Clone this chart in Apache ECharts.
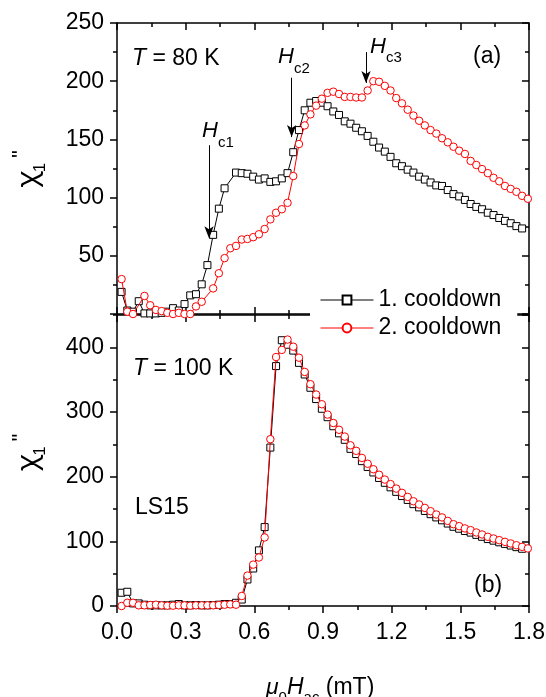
<!DOCTYPE html>
<html>
<head>
<meta charset="utf-8">
<script src="https://cdn.jsdelivr.net/npm/echarts@6/dist/echarts.min.js"></script>
<style>
  html, body { margin: 0; padding: 0; background: #fff; }
  #chart { width: 546px; height: 697px; }
</style>
</head>
<body>
<div id="chart"></div>
<script>
// ---- data ----
const fieldGrid = [0.02,0.045,0.07,0.095,0.12,0.145,0.17,0.195,0.22,0.245,
  0.27,0.295,0.32,0.345,0.37,0.395,0.42,0.445,0.47,0.495,
  0.52,0.545,0.57,0.595,0.62,0.645,0.67,0.695,0.72,0.745,
  0.77,0.795,0.82,0.845,0.87,0.895,0.92,0.945,0.97,0.995,
  1.02,1.045,1.07,1.095,1.12,1.145,1.17,1.195,1.22,1.245,
  1.27,1.295,1.32,1.345,1.37,1.395,1.42,1.445,1.47,1.495,
  1.52,1.545,1.57,1.595,1.62,1.645,1.67,1.695,1.72,1.745,
  1.77,1.795];

// T = 80 K, panel (a)
const top80Cool1 = [19,3,2,11,0.5,0.5,0.5,1,2,5,
  3,8.5,16,17,25.5,42,68,90.5,108,null,
  121.5,121,120.5,118,115.5,116.5,113.5,114,116.5,121,
  139,158,175,181.5,183,181.5,178.5,174,171,165.5,
  163.5,160,157,153,148,143,139.5,135,129.5,127,
  124,121.5,118,115.5,113,110.5,110,106.5,103,101,
  98,94.5,92,90,87,85,82.5,80,78,75.5,
  73.5,null];
const top80Cool2 = [30,2,0,null,15.5,7.5,3.5,2.5,1,0,
  1,0,0,6.5,10.5,null,22,35,48,56.5,
  58.5,64,64.5,66,68.5,73,81.3,87,90,95.5,
  118.5,146,162,171.5,179,185,190,191,189,186.5,
  186.5,186,186,192,200,199.5,196,192,185.5,181,
  175.5,170.5,166,162,158,155,151,147.5,143.7,140.3,
  137.5,131.5,128,124.5,121,117,114,110,107.5,105,
  101.5,99];

// T = 100 K, panel (b)
const bot100Cool1 = [20.5,22,4,4,2,1,1,1,1,2,
  3,1,1,1.5,1,1,1.5,2,3,3,
  5,10,41,58,86,122,245,371,411,404,
  395,376,358,337.5,320,305,292,278,267,257,
  243,235,224,215,206.5,198,190.5,183.5,176.5,170,
  164,157.5,152.5,147,142,137,132.5,127.5,122.5,119.5,
  116,113.5,110,107,103.5,101,98.5,96,93.5,91,
  88.5,null];
const bot100Cool2 = [0,5,5,1,1,1.5,2,1,0.5,0.5,
  1,1,0.5,1,1,1,1,1.5,2,2.5,
  2,15.5,47,64,75,106,258,385,396,412,
  401,384,362,343,327,312,296,283,272.5,262,
  248.5,240,229,220,211.5,203,195.5,188.5,181.6,175,
  168.7,162,157,151.7,146.6,141.5,137,131.6,126.5,123.5,
  120,117.3,113.7,110.6,107,104.4,101.8,99.2,96.7,94,
  91.5,89];

const seriesNames = ['1. cooldown', '2. cooldown'];
const xTicks = [0, 1.8, 0.3];          // min, max, interval (mT)
const yTopTicks = [0, 250, 50];
const yBotTicks = [0, 450, 100];
// critical-field arrows in panel (a): [x, yStart, yEnd]
const arrowHc1 = [0.402, 145, 65];
const arrowHc2 = [0.763, 203, 152];
const arrowHc3 = [1.088, 225, 198.5];

// ---- helpers ----
const FONT = 'Liberation Sans';
const mctx = document.createElement('canvas').getContext('2d');
function fontStr(size, italic, fam) { return (italic ? 'italic ' : '') + size + 'px "' + (fam || FONT) + '"'; }
function midOffset(size) {
  mctx.font = fontStr(size, false); mctx.textBaseline = 'middle';
  return mctx.measureText('H').actualBoundingBoxDescent;
}
function widthOf(t, size, italic) {
  mctx.font = fontStr(size, italic); mctx.textBaseline = 'alphabetic';
  return mctx.measureText(t).width;
}
function compose(x, base, pieces) {
  const els = []; let cx = x;
  pieces.forEach(function (p) {
    const t = p[0], size = p[1], it = p[2], dy = p[3] || 0;
    els.push({
      type: 'text', x: cx, y: base + dy - midOffset(size), silent: true, z: 50,
      style: { text: t, font: fontStr(size, it), fill: '#000', align: 'left', verticalAlign: 'middle' }
    });
    cx += widthOf(t, size, it);
  });
  return els;
}
function rotText(x, y, t, size, fam) {
  return { type: 'text', x: x, y: y, rotation: Math.PI / 2, silent: true, z: 50,
    style: { text: t, font: fontStr(size, false, fam), fill: '#000', align: 'center', verticalAlign: 'middle' } };
}
function yLabel(cy) {
  return [rotText(28, cy, 'χ', 28, 'Noto Sans'), rotText(40, cy - 12, '1', 17), rotText(21, cy - 25.5, '"', 22)];
}
function pairs(xs, ys) {
  const out = [];
  for (let i = 0; i < xs.length; i++) if (ys[i] !== null && ys[i] !== undefined) out.push([xs[i], ys[i]]);
  return out;
}
function arrow(a) { return [{ coord: [a[0], a[1]] }, { coord: [a[0], a[2]] }]; }

const AXW = 1.5;
function xAx(grid, pos, inside, labels) {
  return {
    type: 'value', gridIndex: grid, position: pos, min: xTicks[0], max: xTicks[1], interval: xTicks[2],
    axisLine: { show: true, onZero: false, lineStyle: { color: '#000', width: AXW } },
    axisTick: { show: true, inside: inside, length: 7, lineStyle: { color: '#000', width: AXW } },
    minorTick: { show: true, splitNumber: 2, length: 4, lineStyle: { color: '#000', width: AXW } },
    splitLine: { show: false },
    axisLabel: { show: labels, fontSize: 23, fontFamily: FONT, color: '#000', margin: 15,
      formatter: function (v) { return v.toFixed(1); } }
  };
}
function yAx(grid, pos, ticks, inside, labels, len, line, minor, opts) {
  return {
    type: 'value', gridIndex: grid, position: pos, min: ticks[0], max: ticks[1], interval: ticks[2],
    axisLine: { show: line, onZero: false, lineStyle: { color: '#000', width: AXW } },
    axisTick: { show: true, inside: inside, length: len, lineStyle: { color: '#000', width: AXW } },
    minorTick: { show: minor, splitNumber: 2, length: 4, lineStyle: { color: '#000', width: AXW } },
    splitLine: { show: false },
    axisLabel: Object.assign({ show: labels, fontSize: 23, fontFamily: FONT, color: '#000', margin: 13 }, opts || {})
  };
}
function sq(name, xi, yi, data, extra) {
  return Object.assign({
    type: 'line', name: name, xAxisIndex: xi, yAxisIndex: yi, data: data, clip: false,
    symbol: 'rect', symbolSize: 7, showAllSymbol: true,
    itemStyle: { color: '#fff', borderColor: '#000', borderWidth: 1 },
    lineStyle: { color: '#000', width: 1 }, z: 2
  }, extra || {});
}
function ci(name, xi, yi, data) {
  return {
    type: 'line', name: name, xAxisIndex: xi, yAxisIndex: yi, data: data, clip: false,
    symbol: 'circle', symbolSize: 7.5, showAllSymbol: true,
    itemStyle: { color: '#fff', borderColor: '#ff0000', borderWidth: 1 },
    lineStyle: { color: '#ff0000', width: 1 }, z: 3
  };
}

const chart = echarts.init(document.getElementById('chart'), null, { renderer: 'canvas' });
const option = {
  animation: false,
  backgroundColor: '#fff',
  textStyle: { fontFamily: FONT },
  grid: [
    { left: 117, top: 23, width: 412, height: 291, containLabel: false, outerBoundsMode: 'none' },
    { left: 117, top: 315, width: 412, height: 291, containLabel: false, outerBoundsMode: 'none' }
  ],
  xAxis: [
    xAx(0, 'bottom', true, false),
    xAx(0, 'top', true, false),
    xAx(1, 'bottom', false, true),
    xAx(1, 'top', true, false)
  ],
  yAxis: [
    yAx(0, 'left', yTopTicks, false, true, 7, true, true, { showMinLabel: false }),
    yAx(0, 'right', yTopTicks, true, false, 7, true, true),
    yAx(1, 'left', yBotTicks, false, true, 7, true, false, { showMaxLabel: false }),
    yAx(1, 'left', [yBotTicks[0], yBotTicks[1], yBotTicks[2] / 2], false, false, 4, false, false),
    yAx(1, 'right', yBotTicks, true, false, 7, true, false),
    yAx(1, 'right', [yBotTicks[0], yBotTicks[1], yBotTicks[2] / 2], true, false, 4, false, false)
  ],
  legend: {
    data: seriesNames, orient: 'vertical', left: 310, top: 283,
    padding: [5, 16, 5, 10], itemGap: 4, itemWidth: 53, itemHeight: 11,
    backgroundColor: '#fff', z: 10,
    lineStyle: { width: 1 },
    textStyle: { fontSize: 23, fontFamily: FONT, color: '#000', lineHeight: 24 }
  },
  series: [
    sq(seriesNames[0], 0, 0, pairs(fieldGrid, top80Cool1), {
      markLine: {
        silent: true, animation: false, symbol: ['none', 'arrow'], symbolSize: [7, 12],
        label: { show: false },
        lineStyle: { color: '#000', width: 1, type: 'solid' },
        data: [arrow(arrowHc1), arrow(arrowHc2), arrow(arrowHc3)]
      }
    }),
    ci(seriesNames[1], 0, 0, pairs(fieldGrid, top80Cool2)),
    sq(seriesNames[0], 2, 2, pairs(fieldGrid, bot100Cool1)),
    ci(seriesNames[1], 2, 2, pairs(fieldGrid, bot100Cool2))
  ],
  graphic: [].concat(
    compose(132, 65, [['T', 23, true], [' = 80 K', 23, false]]),
    compose(473, 63, [['(a)', 23, false]]),
    compose(133, 375, [['T', 23, true], [' = 100 K', 23, false]]),
    compose(135, 514, [['LS15', 23, false]]),
    compose(474, 592, [['(b)', 23, false]]),
    compose(202, 137, [['H', 22, true], ['c1', 15, false, 9.5]]),
    compose(278, 62.5, [['H', 22, true], ['c2', 15, false, 10]]),
    compose(370, 53, [['H', 22, true], ['c3', 15, false, 9]]),
    compose(266, 694, [['μ', 23, true], ['0', 15, false, 8], ['H', 23, true], ['ac', 15, false, 8], [' (mT)', 23, false]]),
    yLabel(179.5),
    yLabel(463)
  )
};
chart.setOption(option);
</script>
</body>
</html>
